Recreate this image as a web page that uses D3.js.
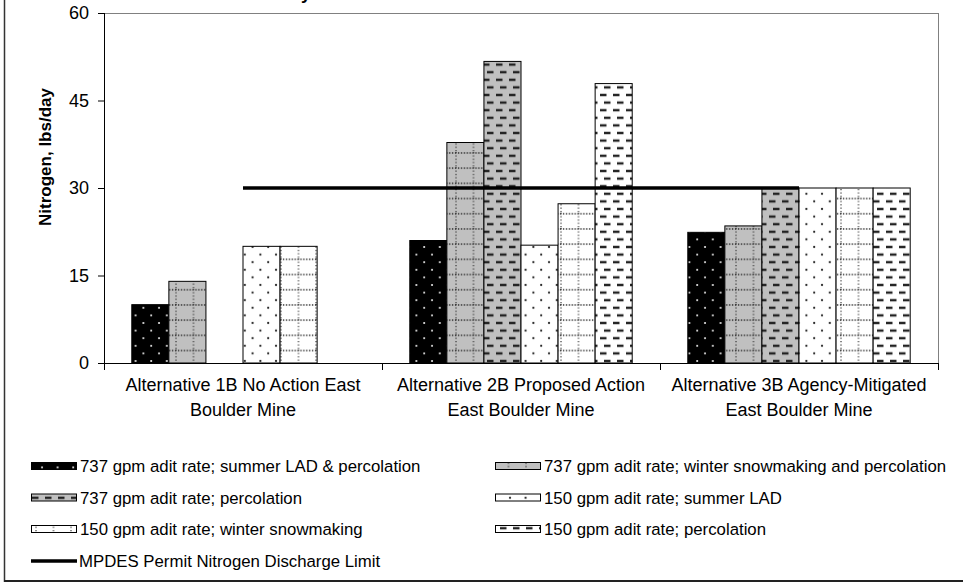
<!DOCTYPE html>
<html>
<head>
<meta charset="utf-8">
<script src="https://cdn.jsdelivr.net/npm/d3@7"></script>
<style>
  body { margin: 0; background: #fff; }
  svg { display: block; font-family: Arial, "Liberation Sans", sans-serif; }
  .yaxis path { display: none; }
  .yaxis line { stroke: #000; }
  .yaxis text { font-size: 18px; fill: #000; }
  .xlab { font-size: 18px; fill: #000; }
  .leg text { font-size: 16.8px; fill: #000; }
</style>
</head>
<body>
<svg id="chart" width="963" height="584"></svg>
<script>

// categories along the x axis (two lines each)
var categories = [
  ["Alternative 1B No Action East", "Boulder Mine"],
  ["Alternative 2B Proposed Action", "East Boulder Mine"],
  ["Alternative 3B Agency-Mitigated", "East Boulder Mine"]
];
var catKeys = ["1B", "2B", "3B"];

// series names (legend order)
var seriesNames = [
  "737 gpm adit rate; summer LAD & percolation",
  "737 gpm adit rate; winter snowmaking and percolation",
  "737 gpm adit rate; percolation",
  "150 gpm adit rate; summer LAD",
  "150 gpm adit rate; winter snowmaking",
  "150 gpm adit rate; percolation"
];

// values, lbs/day (null = no bar)
var s737Summer   = [10, 21, 22.4];
var s737Winter   = [14, 37.8, 23.5];
var s737Perc     = [null, 51.7, 30];
var s150Summer   = [20, 20.2, 30];
var s150Winter   = [20, 27.3, 30];
var s150Perc     = [null, 47.9, 30];
var seriesValues = [s737Summer, s737Winter, s737Perc, s150Summer, s150Winter, s150Perc];

var limitName = "MPDES Permit Nitrogen Discharge Limit";
var limitValues = [30, 30, 30];

var yTicks = [0, 15, 30, 45, 60];
var yLabel = "Nitrogen, lbs/day";
var title = "Daily Nitrate Load at Maximum Adit Rate";

var svg = d3.select("#chart");
var pLeft = 104, pRight = 938, pTop = 13, pBottom = 363;

//patterns
var defs = svg.append("defs");
function dots(id, bg, fg, r) {
  var p = defs.append("pattern").attr("id", id).attr("patternUnits", "userSpaceOnUse")
    .attr("width", 15.6).attr("height", 15.2);
  p.append("rect").attr("width", 15.6).attr("height", 15.2).attr("fill", bg);
  p.append("circle").attr("cx", 3).attr("cy", 3.8).attr("r", r).attr("fill", fg);
  p.append("circle").attr("cx", 10.8).attr("cy", 11.4).attr("r", r).attr("fill", fg);
}
function grid(id, bg) {
  var p = defs.append("pattern").attr("id", id).attr("patternUnits", "userSpaceOnUse")
    .attr("width", 17.5).attr("height", 15.2);
  p.append("rect").attr("width", 17.5).attr("height", 15.2).attr("fill", bg);
  p.append("line").attr("x1", 0).attr("x2", 17.5).attr("y1", 1).attr("y2", 1)
    .attr("stroke", "#222").attr("stroke-width", 1.4).attr("stroke-dasharray", "1.3 1.6");
  p.append("line").attr("x1", 1).attr("x2", 1).attr("y1", 0).attr("y2", 15.2)
    .attr("stroke", "#333").attr("stroke-width", 1.2).attr("stroke-dasharray", "1.3 2");
}
function dashes(id, bg) {
  var p = defs.append("pattern").attr("id", id).attr("patternUnits", "userSpaceOnUse")
    .attr("width", 13).attr("height", 15.2);
  p.append("rect").attr("width", 13).attr("height", 15.2).attr("fill", bg);
  p.append("line").attr("x1", 2).attr("x2", 8.5).attr("y1", 3.8).attr("y2", 3.8)
    .attr("stroke", "#222").attr("stroke-width", 2.4);
  p.append("line").attr("x1", 6).attr("x2", 12.5).attr("y1", 11.4).attr("y2", 11.4)
    .attr("stroke", "#222").attr("stroke-width", 2.4);
}
dots("p0", "#000", "#fff", 1);
grid("p1", "#c0c0c0");
dashes("p2", "#c0c0c0");
dots("p3", "#fff", "#222", 1.1);
grid("p4", "#fff");
dashes("p5", "#fff");
var fills = ["url(#p0)", "url(#p1)", "url(#p2)", "url(#p3)", "url(#p4)", "url(#p5)"];

//scales
var x = d3.scaleBand().domain(catKeys).range([pLeft, pRight]).padding(0);
var xs = d3.scaleBand().domain(d3.range(seriesNames.length)).range([0, x.bandwidth()])
  .paddingInner(0).paddingOuter(0.75);
var y = d3.scaleLinear().domain([0, 60]).range([pBottom, pTop]);

//title (cut off at top edge)
svg.append("text").attr("x", 268).attr("y", -1)
  .style("font-size", "18px").style("font-weight", "bold").text(title);

//plot frame top/right
svg.append("line").attr("x1", pLeft).attr("x2", pRight).attr("y1", pTop + 0.5).attr("y2", pTop + 0.5)
  .attr("stroke", "#808080");
svg.append("line").attr("x1", pRight + 0.5).attr("x2", pRight + 0.5).attr("y1", pTop).attr("y2", pBottom)
  .attr("stroke", "#808080");

//bars
seriesValues.forEach(function(vals, si) {
  svg.append("g").selectAll("rect")
    .data(vals.map(function(v, i) { return {v: v, c: catKeys[i]}; }).filter(function(d) { return d.v != null; }))
    .enter().append("rect")
      .attr("x", function(d) { return x(d.c) + xs(si); })
      .attr("y", function(d) { return y(d.v); })
      .attr("width", xs.bandwidth())
      .attr("height", function(d) { return y(0) - y(d.v); })
      .attr("fill", fills[si])
      .attr("stroke", "#000")
      .attr("stroke-width", 1);
});

//limit line, category centres
var line = d3.line()
  .x(function(d, i) { return x(catKeys[i]) + x.bandwidth() / 2; })
  .y(function(d) { return y(d); });
svg.append("path").datum(limitValues).attr("d", line)
  .attr("fill", "none").attr("stroke", "#000").attr("stroke-width", 3.5);

//y axis
svg.append("g").attr("class", "yaxis")
  .attr("transform", "translate(" + pLeft + ",0)")
  .call(d3.axisLeft(y).tickValues(yTicks).tickSize(6).tickPadding(9));
svg.append("line").attr("x1", pLeft + 0.5).attr("x2", pLeft + 0.5).attr("y1", pTop).attr("y2", pBottom + 1)
  .attr("stroke", "#000");

//x axis
svg.append("line").attr("x1", pLeft).attr("x2", pRight + 1).attr("y1", pBottom + 0.5).attr("y2", pBottom + 0.5)
  .attr("stroke", "#000");
var edges = catKeys.map(function(k) { return x(k); }).concat([pRight]);
svg.append("g").selectAll("line").data(edges).enter().append("line")
  .attr("x1", function(d) { return d + 0.5; }).attr("x2", function(d) { return d + 0.5; })
  .attr("y1", pBottom).attr("y2", pBottom + 7).attr("stroke", "#000");

var xl = svg.append("g").selectAll("text").data(categories).enter().append("text")
  .attr("class", "xlab").attr("text-anchor", "middle");
xl.each(function(d, i) {
  var cx = x(catKeys[i]) + x.bandwidth() / 2;
  d3.select(this).selectAll("tspan").data(d).enter().append("tspan")
    .attr("x", cx).attr("y", function(t, j) { return 391 + j * 25; })
    .text(function(t) { return t; });
});

//y label
svg.append("text")
  .attr("transform", "translate(51,157) rotate(-90)")
  .attr("text-anchor", "middle")
  .style("font-size", "17px").style("font-weight", "bold")
  .text(yLabel);

//legend
var leg = svg.append("g").attr("class", "leg");
var rowY = [466, 497.5, 529, 561];
var colX = [31, 495];
seriesNames.forEach(function(name, i) {
  var gx = colX[i % 2], gy = rowY[Math.floor(i / 2)];
  leg.append("rect").attr("x", gx + 0.5).attr("y", gy - 3.5).attr("width", 45).attr("height", 7)
    .attr("fill", fills[i]).attr("stroke", "#000");
  leg.append("text").attr("x", gx + 49).attr("y", gy + 6).text(name);
});
leg.append("line").attr("x1", 31).attr("x2", 77).attr("y1", rowY[3]).attr("y2", rowY[3])
  .attr("stroke", "#000").attr("stroke-width", 3.5);
leg.append("text").attr("x", 79).attr("y", rowY[3] + 6).text(limitName);

//outer border
svg.append("line").attr("x1", 4.5).attr("x2", 4.5).attr("y1", 0).attr("y2", 582).attr("stroke", "#333").attr("stroke-width", 1.5);
svg.append("line").attr("x1", 4).attr("x2", 963).attr("y1", 581).attr("y2", 581).attr("stroke", "#222").attr("stroke-width", 2.2);

</script>
</body>
</html>
